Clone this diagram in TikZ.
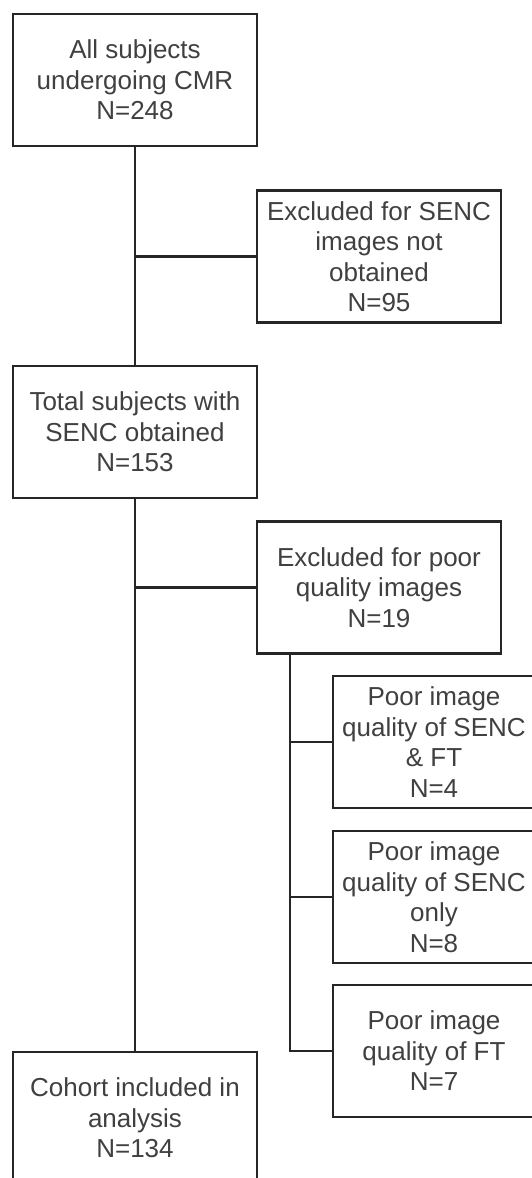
\documentclass[tikz,border=0pt]{standalone}
\usepackage{fontspec}
\setmainfont{Liberation Sans}
\begin{document}
\begin{tikzpicture}[x=1pt,y=-1pt,
  box/.style={draw=black!85, line width=2.2pt, fill=white, text=black!75,
    align=center, inner sep=0pt, font=\fontsize{26}{30.5}\selectfont,
    minimum width=244pt, minimum height=132pt},
  subbox/.style={box, minimum width=202pt},
  link/.style={draw=black!85, line width=2.2pt}]
\useasboundingbox (0,0) rectangle (532,1178);
\clip (0,0) rectangle (532,1178);

% main column
\node[box] (all)    at (135,80)   {All subjects\\undergoing CMR\\N=248};
\node[box] (senc)   at (135,432)  {Total subjects with\\SENC obtained\\N=153};
\node[box] (cohort) at (135,1118) {Cohort included in\\analysis\\N=134};

% exclusions
\node[box] (exa) at (379,256.5) {Excluded for SENC\\images not\\obtained\\N=95};
\node[box] (exb) at (379,587.5) {Excluded for poor\\quality images\\N=19};

% reasons for poor quality
\node[subbox] (q1) at (434,742)  {Poor image\\quality of SENC\\\& FT\\N=4};
\node[subbox] (q2) at (434,897)  {Poor image\\quality of SENC\\only\\N=8};
\node[subbox] (q3) at (434,1051) {Poor image\\quality of FT\\N=7};

% branch points
\coordinate (ja) at (all.south |- exa.west);
\coordinate (jb) at (senc.south |- exb.west);
\coordinate (kt) at ([xshift=34pt]exb.south west);
\coordinate (k1) at (kt |- q1.west);
\coordinate (k2) at (kt |- q2.west);
\coordinate (k3) at (kt |- q3.west);

\draw[link] (all.south) -- (senc.north);
\draw[link] (ja) -- (exa.west);
\draw[link] (senc.south) -- (cohort.north);
\draw[link] (jb) -- (exb.west);
\draw[link] (kt) -- (k3) -- (q3.west);
\draw[link] (k1) -- (q1.west);
\draw[link] (k2) -- (q2.west);
\end{tikzpicture}
\end{document}
